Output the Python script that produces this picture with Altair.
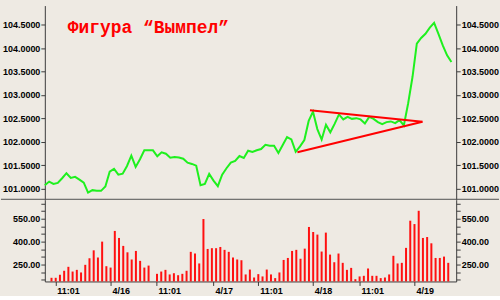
import json
import altair as alt
import pandas as pd

# hourly bars, index 0..94
hour_index = list(range(95))

price = [
    101.072, 101.149, 101.100, 101.121, 101.221, 101.328, 101.228, 101.249, 101.191, 101.128,
    100.915, 100.966, 100.951, 100.951, 101.043, 101.362, 101.419, 101.298, 101.319, 101.483,
    101.702, 101.462, 101.626, 101.817, 101.817, 101.817, 101.689, 101.774, 101.745, 101.660,
    101.674, 101.664, 101.638, 101.553, 101.526, 101.489, 101.072, 101.100, 101.313, 101.170,
    101.051, 101.298, 101.434, 101.553, 101.589, 101.696, 101.653, 101.809, 101.781, 101.817,
    101.845, 101.936, 101.915, 101.915, 101.760, 101.930, 102.100, 102.051, 101.785, 101.902,
    102.036, 102.445, 102.643, 102.270, 102.047, 102.364, 102.202, 102.381, 102.583, 102.477,
    102.532, 102.489, 102.504, 102.477, 102.391, 102.532, 102.489, 102.419, 102.377, 102.419,
    102.434, 102.398, 102.462, 102.349, 102.823, 103.383, 104.094, 104.217, 104.306, 104.436,
    104.540, 104.306, 104.057, 103.845, 103.702,
]

volume = [
    163, 163, 183, 209, 235, 204, 215, 198, 248, 291,
    343, 296, 400, 239, 230, 470, 424, 372, 330, 283,
    339, 274, 230, 243, 130, 189, 204, 215, 185, 193,
    180, 189, 209, 333, 322, 257, 548, 352, 357, 357,
    365, 346, 333, 296, 283, 278, 185, 217, 165, 187,
    172, 217, 185, 161, 198, 280, 293, 339, 346, 287,
    354, 496, 463, 446, 335, 459, 315, 265, 322, 261,
    215, 228, 154, 172, 176, 224, 176, 176, 161, 165,
    185, 307, 257, 261, 359, 537, 515, 602, 424, 430,
    389, 293, 293, 302, 261,
]

tick_pos = [1.3, 14.4, 25.3, 38.8, 49.4, 62.3, 73.4, 86.4]
tick_labels = ["11:01", "4/16", "11:01", "4/17", "11:01", "4/18", "11:01", "4/19"]

pennant_seg = ["upper", "upper", "lower", "lower"]
pennant_x = [61.3, 87.3, 58.4, 87.3]
pennant_y = [102.674, 102.426, 101.774, 102.426]

price_ticks = [101.0, 101.5, 102.0, 102.5, 103.0, 103.5, 104.0, 104.5]
volume_ticks = [150, 200, 250, 300, 350, 400, 450, 500, 550, 600, 650]
volume_labeled = [250, 400, 550]

title_text = "Фигура “Вымпел”"

df = pd.DataFrame({"k": hour_index, "price": price, "volume": volume})
pdf = pd.DataFrame({"seg": pennant_seg, "px": pennant_x, "py": pennant_y})
one = pd.DataFrame({"a": [0]})

W, H_UP, H_LO = 413, 195, 82
BG = "#eeeae3"
AX = "#3a3a3a"

xs = alt.Scale(domain=[0, 95.1], nice=False, zero=False)
ys_up = alt.Scale(domain=[100.76, 104.909], nice=False, zero=False)
ys_lo = alt.Scale(domain=[139, 674], nice=False, zero=False, clamp=True)

common = dict(
    labelFont="Liberation Sans", labelFontWeight="bold", labelFontSize=9,
    labelColor="#000000", domainColor=AX, tickColor=AX, grid=False, title=None,
    ticks=True, tickSize=4, labelPadding=1, labelOverlap=False, labelFlush=False,
)

line = alt.Chart(df).mark_line(color="#1ef01e", strokeWidth=2).encode(
    x=alt.X("k:Q", scale=xs, axis=None),
    y=alt.Y("price:Q", scale=ys_up,
            axis=alt.Axis(orient="left", values=price_ticks, format=".4f", **common)),
)
pen = alt.Chart(pdf).mark_line(color="#ff0000", strokeWidth=2).encode(
    x=alt.X("px:Q", scale=xs, axis=None),
    y=alt.Y("py:Q", scale=ys_up,
            axis=alt.Axis(orient="right", values=price_ticks, format=".4f", **common)),
    detail="seg:N",
)
sep = alt.Chart(one).mark_rule(color="#505050", strokeWidth=1).encode(
    x=alt.value(-44), x2=alt.value(W + 43), y=alt.value(H_UP - 0.5)
)

upper = alt.layer(line, pen, sep).resolve_scale(y="shared").resolve_axis(
    y="independent"
).properties(
    width=W, height=H_UP,
    title=alt.Title(title_text, anchor="start", frame="group", offset=-46, dx=23,
                    font="Liberation Mono", fontSize=18, fontWeight="bold",
                    color="#ff0000", baseline="alphabetic"),
)

xlabel_expr = f"{json.dumps(tick_labels)}[indexof({json.dumps(tick_pos)}, datum.value)]"
vlabel_expr = f"indexof({json.dumps(volume_labeled)}, datum.value) >= 0 ? datum.label : ''"

x_axis = alt.Axis(orient="bottom", values=tick_pos, labelExpr=xlabel_expr,
                  labelAlign="left", labelOffset=1.5, labelBaseline="top", **common)

bars = alt.Chart(df).mark_bar(color="#ff1010", width=2, xOffset=1.7).encode(
    x=alt.X("k:Q", scale=xs, axis=x_axis),
    y=alt.Y("volume:Q", scale=ys_lo,
            axis=alt.Axis(orient="left", values=volume_ticks, format=".2f",
                          labelExpr=vlabel_expr, **common)),
    y2=alt.datum(139),
)
bars_r = alt.Chart(df).mark_bar(color="#ff1010", width=2, xOffset=1.7, opacity=0).encode(
    x=alt.X("k:Q", scale=xs, axis=x_axis),
    y=alt.Y("volume:Q", scale=ys_lo,
            axis=alt.Axis(orient="right", values=volume_ticks, format=".2f",
                          labelExpr=vlabel_expr, **common)),
    y2=alt.datum(139),
)
lower = alt.layer(bars, bars_r).resolve_scale(y="shared").resolve_axis(
    y="independent"
).properties(width=W, height=H_LO)

chart = alt.vconcat(upper, lower, spacing=0, bounds="flush").properties(
    background=BG,
    padding={"left": 0, "top": 5, "right": 0, "bottom": 0},
).configure_view(stroke=None)

chart.save("out.html", embed_options={"renderer": "svg", "actions": False})
